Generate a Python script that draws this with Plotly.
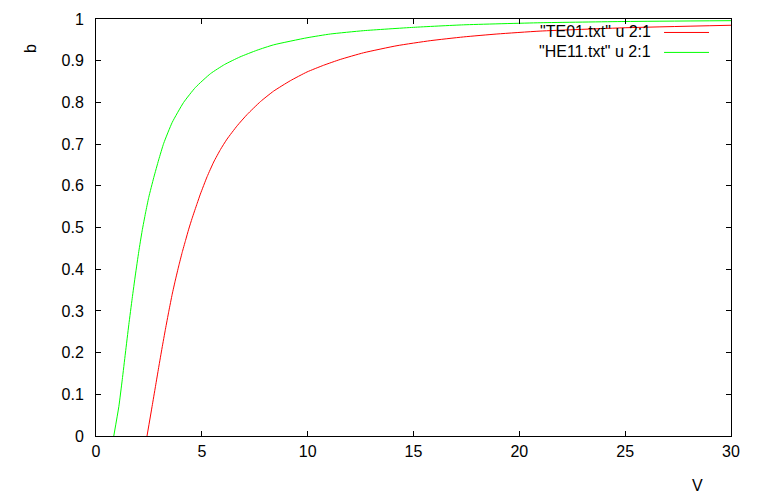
import plotly.graph_objects as go

# HE11 mode (green)
he11_V = [0.84, 1.08, 1.24, 1.39, 1.55, 1.71, 1.86, 2.02, 2.18, 2.34, 2.49, 2.73, 2.96, 3.20,
          3.60, 4.14, 4.70, 5.41, 6.08, 6.80, 7.60, 8.39, 9.97, 11.07, 12.64, 15.0, 17.36,
          20.98, 25.0, 30.0]
he11_b = [0.000, 0.071, 0.135, 0.199, 0.267, 0.330, 0.386, 0.442, 0.492, 0.535, 0.572, 0.620,
          0.662, 0.702, 0.752, 0.800, 0.836, 0.869, 0.891, 0.909, 0.925, 0.938, 0.955, 0.964,
          0.972, 0.980, 0.986, 0.991, 0.994, 0.996]

# TE01 mode (red)
te01_V = [2.41, 2.65, 2.81, 2.96, 3.12, 3.28, 3.44, 3.60, 3.75, 3.91, 4.07, 4.23, 4.38, 4.54,
          4.78, 4.93, 5.25, 5.56, 5.88, 6.19, 6.67, 7.14, 7.77, 8.39, 9.18, 9.97, 10.75, 11.54,
          12.64, 14.22, 15.79, 17.36, 18.94, 20.98, 25.0, 30.0]
te01_b = [0.000, 0.071, 0.119, 0.164, 0.211, 0.256, 0.299, 0.340, 0.374, 0.408, 0.440, 0.469,
          0.496, 0.522, 0.558, 0.580, 0.622, 0.657, 0.687, 0.712, 0.744, 0.771, 0.802, 0.827,
          0.852, 0.873, 0.889, 0.903, 0.919, 0.936, 0.948, 0.957, 0.964, 0.971, 0.979, 0.985]

legend_labels = ['"TE01.txt" u 2:1', '"HE11.txt" u 2:1']
x_ticks = [0, 5, 10, 15, 20, 25, 30]
y_ticks = [0, 0.1, 0.2, 0.3, 0.4, 0.5, 0.6, 0.7, 0.8, 0.9, 1]
y_tick_text = ["0", "0.1", "0.2", "0.3", "0.4", "0.5", "0.6", "0.7", "0.8", "0.9", "1"]

FONT = "Liberation Sans, Arial, sans-serif"
FS = 16
W, H = 762, 496
# plot area in page pixels: left 95.5, right 731, top 18.5, bottom 436.5
ML = 95.5
MT = 18.5
MR = W - 731
MB = H - 436.5

fig = go.Figure()
fig.add_trace(go.Scatter(x=te01_V, y=te01_b, mode="lines", name=legend_labels[0],
                         line=dict(color="#ff0000", width=1, shape="spline", smoothing=0.5)))
fig.add_trace(go.Scatter(x=he11_V, y=he11_b, mode="lines", name=legend_labels[1],
                         line=dict(color="#00ff00", width=1, shape="spline", smoothing=0.5)))

axis_common = dict(showgrid=False, zeroline=False, showline=True, linecolor="black",
                   linewidth=1, mirror="ticks", ticks="inside", ticklen=5, tickcolor="black",
                   tickfont=dict(family=FONT, size=FS, color="black"))
fig.update_xaxes(range=[0, 30], tickvals=x_ticks, ticklabelstandoff=1, **axis_common)
fig.update_yaxes(range=[0, 1], tickvals=y_ticks, ticktext=y_tick_text, ticklabelstandoff=8,
                 **axis_common)

def px2paper_x(px):
    return (px - ML) / (W - ML - MR)

def px2paper_y(py):
    return (H - MB - py) / (H - MT - MB)

annotations = [
    dict(text="b", x=px2paper_x(30), y=px2paper_y(48), xref="paper", yref="paper",
         xanchor="center", yanchor="middle",
         showarrow=False, textangle=-90, font=dict(family=FONT, size=FS, color="black")),
    dict(text="V", x=px2paper_x(697), y=px2paper_y(486), xref="paper", yref="paper",
         xanchor="center", yanchor="middle",
         showarrow=False, font=dict(family=FONT, size=FS, color="black")),
]
shapes = []
legend_colors = ["#ff0000", "#00ff00"]
for i, (lab, col) in enumerate(zip(legend_labels, legend_colors)):
    yy = 32 + i * 20
    annotations.append(dict(text=lab, x=px2paper_x(653), y=px2paper_y(yy - 1), xref="paper",
                            yref="paper", xanchor="right", yanchor="middle", showarrow=False,
                            font=dict(family=FONT, size=FS, color="black")))
    shapes.append(dict(type="line", xref="paper", yref="paper",
                       x0=px2paper_x(664), x1=px2paper_x(709),
                       y0=px2paper_y(yy), y1=px2paper_y(yy),
                       line=dict(color=col, width=1)))

fig.update_layout(width=W, height=H, margin=dict(l=ML, r=MR, t=MT, b=MB),
                  paper_bgcolor="white", plot_bgcolor="white", showlegend=False,
                  hovermode=False, annotations=annotations, shapes=shapes)

fig.write_html("out.html", config={"displayModeBar": False},
               post_script="document.body.style.margin='0';document.body.style.overflow='hidden';")
